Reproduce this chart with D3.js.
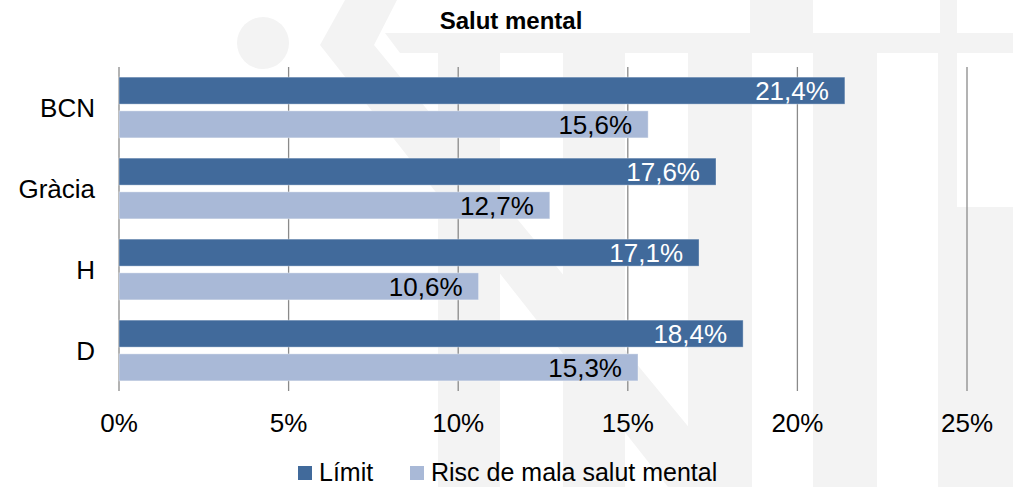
<!DOCTYPE html>
<html>
<head>
    <meta charset="utf-8">
    <title>Salut mental</title>
    <script src="https://d3js.org/d3.v7.min.js"></script>
    <style>
        body { margin: 0; background: #fff; }
        text { font-family: "Liberation Sans", Arial, sans-serif; }
    </style>
</head>
<body>
<div id="chart"></div>
<script>
    // data
    let categories = ["BCN", "Gràcia", "H", "D"];
    let seriesNames = ["Límit", "Risc de mala salut mental"];
    let limitValues = [21.4, 17.6, 17.1, 18.4];
    let riskValues = [15.6, 12.7, 10.6, 15.3];
    let tickValues = [0, 5, 10, 15, 20, 25];
    let seriesColors = ["#416a9b", "#a9b9d7"];
    let labelColors = ["#ffffff", "#000000"];

    let width = 1013,
        height = 487;

    let svg = d3.select("#chart")
        .append("svg")
        .attr("width", width)
        .attr("height", height);

    // faint watermark in the background
    let wm = svg.append("g").attr("fill", "#f3f3f3");
    wm.append("circle").attr("cx", 263).attr("cy", 43).attr("r", 26);
    wm.append("polygon").attr("points", "345,0 397,0 374,45 738,487 668,487 320,45");
    wm.append("polygon").attr("points", "385,33 1013,33 1013,53 400,53");
    [[438, 500], [563, 625], [688, 752], [813, 877], [938, 957]].forEach(function(s) {
        wm.append("rect").attr("x", s[0]).attr("y", 53).attr("width", s[1] - s[0]).attr("height", height - 53);
    });
    wm.append("rect").attr("x", 957).attr("y", 207).attr("width", 56).attr("height", height - 207);
    wm.append("rect").attr("x", 750).attr("y", 0).attr("width", 63).attr("height", 33);
    wm.append("rect").attr("x", 940).attr("y", 0).attr("width", 17).attr("height", 33);

    // scales
    let x = d3.scaleLinear()
        .domain([0, 25])
        .range([119, 967]);

    let y0 = d3.scaleBand()
        .domain(categories)
        .range([67, 391])
        .padding(0);

    let y1 = d3.scaleBand()
        .domain(seriesNames)
        .range([0, y0.bandwidth()])
        .paddingInner(0.2)
        .paddingOuter(0.3);

    // gridlines
    svg.append("g")
        .selectAll("line")
        .data(tickValues)
        .enter()
        .append("line")
        .attr("x1", d => x(d))
        .attr("x2", d => x(d))
        .attr("y1", 67)
        .attr("y2", 391)
        .attr("stroke", "#8a8a8a")
        .attr("stroke-width", 1.3);

    // bars
    let rows = categories.map((c, i) => ({ cat: c, values: [limitValues[i], riskValues[i]] }));

    let groups = svg.append("g")
        .selectAll("g")
        .data(rows)
        .enter()
        .append("g")
        .attr("transform", d => `translate(0, ${y0(d.cat)})`);

    groups.selectAll("rect")
        .data(d => d.values.map((v, j) => ({ v: v, j: j })))
        .enter()
        .append("rect")
        .attr("x", x(0))
        .attr("y", d => y1(seriesNames[d.j]))
        .attr("width", d => x(d.v) - x(0))
        .attr("height", y1.bandwidth())
        .attr("fill", d => seriesColors[d.j])
        .attr("stroke", "rgba(255,255,255,0.35)")
        .attr("stroke-width", 1);

    groups.selectAll("text")
        .data(d => d.values.map((v, j) => ({ v: v, j: j })))
        .enter()
        .append("text")
        .attr("x", d => x(d.v) - 16)
        .attr("y", d => y1(seriesNames[d.j]) + y1.bandwidth() / 2)
        .attr("dy", "0.36em")
        .attr("text-anchor", "end")
        .attr("font-size", "26px")
        .attr("fill", d => labelColors[d.j])
        .text(d => d.v.toFixed(1).replace(".", ",") + "%");

    // category labels
    svg.append("g")
        .selectAll("text")
        .data(categories)
        .enter()
        .append("text")
        .attr("x", 95)
        .attr("y", d => y0(d) + y0.bandwidth() / 2)
        .attr("dy", "0.36em")
        .attr("text-anchor", "end")
        .attr("font-size", "26px")
        .attr("fill", "#000")
        .text(d => d);

    // x tick labels
    svg.append("g")
        .selectAll("text")
        .data(tickValues)
        .enter()
        .append("text")
        .attr("x", d => x(d))
        .attr("y", 432)
        .attr("text-anchor", "middle")
        .attr("font-size", "26px")
        .attr("fill", "#000")
        .text(d => d + "%");

    // title
    svg.append("text")
        .attr("x", 511)
        .attr("y", 29)
        .attr("text-anchor", "middle")
        .attr("font-size", "24px")
        .attr("font-weight", "bold")
        .text("Salut mental");

    // legend
    let legendX = [298, 410];
    let legend = svg.append("g")
        .selectAll("g")
        .data(seriesNames)
        .enter()
        .append("g")
        .attr("transform", (d, i) => `translate(${legendX[i]}, 466)`);

    legend.append("rect")
        .attr("width", 14)
        .attr("height", 14)
        .attr("fill", (d, i) => seriesColors[i]);

    legend.append("text")
        .attr("x", 21)
        .attr("y", 15)
        .attr("font-size", "25px")
        .attr("fill", "#000")
        .text(d => d);
</script>
</body>
</html>
